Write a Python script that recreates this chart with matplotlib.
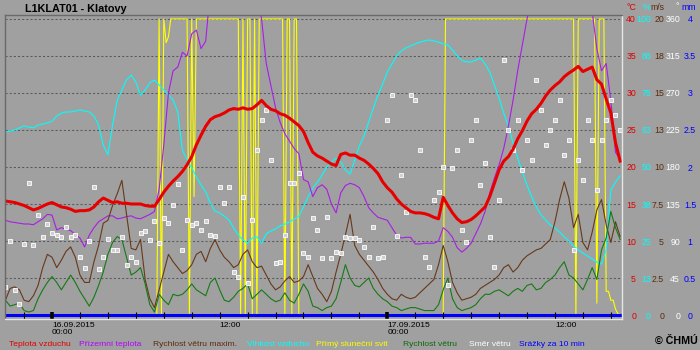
import numpy as np
import pandas as pd
import matplotlib
matplotlib.use("Agg")
import matplotlib.pyplot as plt

plt.rcParams['font.family'] = ['Liberation Sans', 'DejaVu Sans']

# ---------------------------------------------------------------- data
times = pd.date_range("2015-09-15 20:40", "2015-09-17 16:40", freq="20min")
sun_times = pd.date_range("2015-09-15 20:40", "2015-09-17 16:40", freq="10min")

temperature = [
    15.4, 15.3, 15.2, 15.0, 14.8, 14.5, 14.2, 14.4, 14.7, 15.0,
    15.2, 14.9, 14.6, 14.5, 14.3, 14.0, 14.1, 14.1, 14.2, 14.6,
    15.3, 15.8, 15.5, 15.2, 15.3, 15.1, 15.1, 15.0, 15.0, 15.0,
    14.8, 14.7, 14.7, 15.6, 16.6, 17.4, 18.1, 18.7, 19.4, 20.3,
    21.4, 23.0, 24.3, 25.5, 26.4, 26.8, 27.0, 27.3, 27.7, 27.9,
    27.8, 28.0, 27.8, 27.9, 28.4, 29.0, 28.3, 27.8, 27.6, 27.2,
    27.0, 26.6, 26.1, 25.6, 24.8, 23.3, 22.0, 21.5, 21.2, 20.8,
    20.4, 20.2, 21.7, 21.9, 21.6, 21.6, 21.2, 20.9, 20.4, 19.8,
    19.1, 18.0, 17.2, 16.6, 15.7, 15.0, 14.5, 14.0, 13.8, 13.8,
    13.7, 13.5, 13.2, 13.0, 15.9, 14.8, 13.8, 13.0, 12.5, 12.6,
    12.9, 13.4, 14.0, 14.6, 16.0, 17.8, 19.6, 20.8, 21.4, 22.4,
    23.8, 24.9, 26.2, 27.2, 27.8, 28.6, 29.6, 30.4, 31.0, 31.5,
    32.2, 32.7, 33.1, 33.6, 32.9, 33.2, 33.5, 31.8, 31.2, 29.2,
    27.3, 23.3, 20.8]

ground_temp = [
    12.8, 12.6, 12.5, 12.4, 12.3, 12.3, 12.2, 12.6, 13.0, 13.6,
    13.5, 11.5, 11.8, 11.6, 11.4, 10.9, 10.4, 9.2, 10.8, 11.8,
    12.6, 13.0, 13.4, 13.4, 13.0, 13.1, 13.3, 13.4, 13.1, 13.0,
    13.3, 13.6, 14.0, 17.0, 23.0, 30.0, 33.0, 33.5, 35.5, 35.0,
    38.0, 38.5, 36.0, 37.0, 44.0, 46.0, 47.0, 48.0, 48.5, 49.0,
    49.0, 48.5, 47.0, 45.5, 43.0, 40.0, 34.0, 31.0, 28.0, 26.0,
    24.5, 23.5, 22.5, 21.8, 18.3, 18.0, 16.0, 17.2, 17.6, 17.0,
    15.0, 13.8, 16.5, 17.5, 17.8, 17.6, 17.2, 16.0, 14.5, 13.8,
    13.2, 13.0, 12.8, 11.8, 10.8, 10.4, 10.5, 10.5, 9.6, 9.6,
    9.7, 9.7, 9.7, 10.0, 11.8, 11.3, 10.5, 9.1, 8.5, 9.0,
    9.7, 11.0, 12.3, 14.0, 16.5, 18.5, 20.3, 22.5, 25.5, 29.0,
    33.0, 36.5, 40.0, 43.0, 45.0, 47.0, 48.0, 49.0, 49.5, 50.0,
    50.0, 49.5, 48.5, 47.5, 46.0, 44.0, 41.0, 36.0, 33.0, 34.0,
    29.0, 22.0, 21.0]

humidity = [
    61.8, 62.2, 62.5, 63.2, 63.9, 63.5, 63.2, 64.2, 64.5, 64.9,
    65.5, 67.2, 68.2, 68.6, 68.6, 68.9, 69.3, 68.9, 68.6, 67.2,
    64.2, 57.4, 54.1, 64.2, 72.6, 76.0, 79.4, 81.1, 78.7, 74.3,
    76.0, 78.4, 79.4, 77.7, 76.0, 74.3, 72.6, 68.6, 55.7, 52.4,
    49.7, 46.6, 43.9, 41.6, 37.8, 35.1, 34.5, 33.4, 32.1, 29.4,
    27.0, 25.3, 24.3, 26.0, 26.4, 24.3, 27.4, 28.4, 29.1, 30.1,
    30.7, 31.4, 32.4, 33.4, 36.5, 39.9, 42.9, 44.9, 47.3, 50.0,
    51.7, 53.0, 51.7, 49.0, 47.6, 52.4, 57.1, 60.5, 65.2, 69.9,
    74.3, 78.0, 82.1, 84.8, 87.5, 89.2, 90.2, 90.9, 91.6, 92.2,
    92.6, 92.9, 92.6, 92.2, 91.6, 91.2, 89.5, 87.5, 86.1, 85.5,
    85.5, 86.1, 86.8, 84.8, 82.1, 77.7, 73.3, 68.2, 63.9, 58.1,
    53.0, 48.3, 43.9, 39.9, 36.5, 33.8, 32.1, 30.4, 29.4, 28.0,
    26.4, 25.0, 23.3, 22.0, 20.9, 19.9, 18.9, 17.9, 17.2, 22.0,
    42.2, 44.9, 47.0]

wind_gust = [
    1.0, 1.8, 1.9, 1.7, 1.0, 0.9, 1.3, 2.0, 3.2, 4.1,
    3.9, 3.2, 3.7, 4.3, 4.6, 3.9, 2.7, 2.2, 2.2, 3.6,
    4.7, 6.2, 6.4, 7.4, 8.2, 9.1, 6.8, 4.5, 4.4, 5.1,
    2.4, 1.1, 0.5, 1.7, 2.9, 4.1, 3.6, 3.2, 2.8, 3.0,
    3.4, 4.1, 4.3, 3.6, 4.5, 5.1, 4.4, 3.9, 3.6, 3.2,
    3.4, 4.1, 4.4, 3.6, 3.2, 3.3, 2.7, 2.1, 1.7, 1.9,
    2.3, 2.6, 2.2, 2.3, 2.6, 3.4, 2.6, 1.8, 1.4, 0.9,
    1.6, 2.9, 4.1, 5.4, 6.8, 4.7, 4.1, 3.7, 3.3, 2.9,
    2.4, 1.8, 1.4, 1.1, 1.0, 1.4, 1.2, 1.1, 1.2, 1.5,
    1.8, 2.1, 2.4, 3.4, 4.7, 3.6, 2.2, 1.5, 1.0, 1.1,
    1.2, 1.4, 1.8, 2.0, 2.2, 2.4, 2.7, 3.2, 3.4, 2.9,
    3.2, 3.7, 4.0, 4.2, 4.4, 4.5, 4.8, 5.1, 6.3, 7.8,
    9.0, 7.9, 5.9, 6.8, 4.9, 4.4, 5.6, 7.1, 7.8, 6.1,
    4.9, 6.3, 5.3]

wind_speed = [
    1.0, 0.6, 0.7, 0.8, 0.3, 0.2, 0.3, 1.1, 1.7, 2.2,
    2.6, 2.2, 1.7, 2.2, 2.7, 2.2, 1.6, 1.1, 0.6, 1.2,
    2.0, 2.9, 4.1, 4.9, 5.3, 5.1, 3.9, 2.7, 2.9, 3.2,
    2.1, 0.7, 0.2, 1.4, 1.0, 0.7, 1.4, 1.3, 1.4, 1.7,
    2.1, 1.7, 1.5, 1.3, 2.2, 2.5, 1.7, 1.0, 0.9, 1.2,
    1.6, 1.8, 2.1, 1.1, 1.4, 1.7, 1.4, 1.1, 0.9, 1.0,
    1.5, 1.0, 0.8, 1.4, 2.1, 1.6, 0.6, 0.5, 0.3, 0.5,
    0.6, 1.1, 2.2, 3.4, 2.5, 2.0, 1.9, 2.2, 2.5, 1.8,
    1.4, 1.1, 0.9, 0.6, 0.5, 0.3, 0.4, 0.5, 0.5, 0.4,
    0.3, 0.3, 0.3, 0.7, 1.7, 2.5, 1.1, 0.5, 0.3, 0.4,
    0.5, 0.7, 1.1, 1.4, 1.4, 1.6, 1.7, 1.5, 1.3, 1.6,
    1.8, 1.6, 2.0, 2.1, 1.7, 1.8, 2.2, 2.4, 2.7, 3.2,
    3.6, 2.7, 2.5, 2.1, 1.7, 2.4, 3.2, 2.4, 4.4, 5.2,
    7.0, 5.9, 5.1]

wind_dir = [
    34, 90, 30, 13, 86, 161, 85, 122, 95, 111,
    100, 97, 95, 107, 95, 97, 71, 57, 90, 156,
    56, 71, 92, 79, 79, 95, 61, 71, 64, 100,
    102, 91, 114, 88, 118, 112, 134, 159, 79, 116,
    109, 112, 103, 114, 97, 96, 156, 136, 156, 52,
    46, 144, 39, 116, 201, 237, 249, 189, 63, 64,
    97, 161, 161, 173, 75, 71, 118, 103, 69, 119,
    69, 77, 75, 95, 94, 94, 91, 83, 71, 107,
    69, 71, 237, 268, 96, 170, 125, 268, 261, 201,
    71, 58, 140, 150, 180, 36, 179, 201, 103, 89,
    213, 237, 158, 185, 95, 58, 140, 310, 225, 201,
    237, 176, 213, 189, 286, 249, 207, 225, 237, 261,
    195, 213, 79, 189, 164, 237, 213, 152, 213, 237,
    261, 243, 225]

precipitation = [
    0, 0, 0, 0, 0, 0, 0, 0, 0, 0, 0, 0, 0, 0, 0, 0, 0, 0, 0, 0,
    0, 0, 0, 0, 0, 0, 0, 0, 0, 0, 0, 0, 0, 0, 0, 0, 0, 0, 0, 0,
    0, 0, 0, 0, 0, 0, 0, 0, 0, 0, 0, 0, 0, 0, 0, 0, 0, 0, 0, 0,
    0, 0, 0, 0, 0, 0, 0, 0, 0, 0, 0, 0, 0, 0, 0, 0, 0, 0, 0, 0,
    0, 0, 0, 0, 0, 0, 0, 0, 0, 0, 0, 0, 0, 0, 0, 0, 0, 0, 0, 0,
    0, 0, 0, 0, 0, 0, 0, 0, 0, 0, 0, 0, 0, 0, 0, 0, 0, 0, 0, 0,
    0, 0, 0, 0, 0, 0, 0, 0, 0, 0, 0, 0, 0]

# minutes of direct sunshine per 10 minutes
sunshine = [
    0, 0, 0, 0, 0, 0, 0, 0, 0, 0, 0, 0, 0, 0, 0, 0, 0, 0, 0, 0, 0, 0,
    0, 0, 0, 0, 0, 0, 0, 0, 0, 0, 0, 0, 0, 0, 0, 0, 0, 0, 0, 0, 0, 0,
    0, 0, 0, 0, 0, 0, 0, 0, 0, 0, 0, 0, 0, 0, 0, 0, 0, 0, 0, 0, 0, 0,
    10, 0, 10, 9.2, 9.4, 10, 10, 10, 10, 10, 10, 10, 10, 0, 10, 4,
    10, 10, 10, 10, 10, 10, 10, 10, 10, 10, 10, 10, 10, 10, 10, 10, 10, 10, 10,
    0, 10, 0, 10, 10, 0, 10, 0,
    10, 10, 10, 10, 10, 10, 10, 10, 10, 10, 10,
    0, 10, 10, 0, 10, 10,
    0, 0, 0, 0, 0, 0, 0, 0, 0, 0, 0, 0, 0, 0, 0, 0, 0, 0, 0, 0, 0,
    0, 0, 0, 0, 0, 0, 0, 0, 0, 0, 0, 0, 0, 0, 0, 0, 0, 0, 0, 0, 0,
    0, 0, 0, 0, 0, 0, 0, 0, 0, 0, 0, 0, 0, 0, 0, 0, 0, 0, 0, 0, 0,
    10, 10, 10, 10, 10, 10, 10, 10, 10, 10, 10, 10, 10, 10,
    10, 10, 10, 10, 10, 10, 10, 10, 10, 10, 10, 10, 10, 10,
    10, 10, 10, 10, 10, 10, 10, 10, 10, 10, 10, 10, 10, 10,
    10, 10, 10, 10, 10, 10, 10, 10, 10, 10, 10, 10, 10, 10,
    0, 10, 10, 10, 10, 10, 10, 10, 10, 0.4, 10, 10, 10,
    0.8, 0.8, 0.5, 0.5, 0.2, 0.05, 0]

station = "L1KLAT01 - Klatovy"
legend_labels = ["Teplota vzduchu", "Přízemní teplota", "Rychlost větru maxim.",
                 "Vlhkost vzduchu", "Přímý sluneční svit", "Rychlost větru",
                 "Směr větru", "Srážky za 10 min"]
unit_labels = ["°C", "%", "m/s", "°", "mm"]
temp_ticks = [0, 5, 10, 15, 20, 25, 30, 35, 40]
temp_ticklabels = ["0", "5", "10", "15", "20", "25", "30", "35", "40"]
hum_ticks = [0, 12.5, 25, 37.5, 50, 62.5, 75, 87.5, 100]
hum_ticklabels = ["0", "13", "25", "38", "50", "63", "75", "88", "100"]
wind_ticks = [0, 2.5, 5, 7.5, 10, 12.5, 15, 17.5, 20]
wind_ticklabels = ["0", "2.5", "5", "7.5", "10", "13", "15", "18", "20"]
dir_ticks = [0, 45, 90, 135, 180, 225, 270, 315, 360]
dir_ticklabels = ["0", "45", "90", "135", "180", "225", "270", "315", "360"]
rain_ticks = [0, 0.5, 1, 1.5, 2, 2.5, 3, 3.5, 4]
rain_ticklabels = ["0", "0.5", "1", "1.5", "2", "2.5", "3", "3.5", "4"]

# ---------------------------------------------------------------- style
BG = "#a0a0a0"
C_T = "#e80000"
C_G = "#a81ee6"
C_WG = "#66391a"
C_H = "#00ffff"
C_S = "#ffff00"
C_W = "#157a15"
C_D = "#ffffff"
C_R = "#0000ff"
THIN = 0.8

W, H = 700, 350
fig = plt.figure(figsize=(W / 100, H / 100), dpi=100, facecolor=BG)
rect = [5 / W, 31 / H, 617 / W, 304 / H]

t_lim = (-0.54, 40.54)
x_lim = (pd.Timestamp("2015-09-15 20:38"), pd.Timestamp("2015-09-17 16:48"))

ax_bg = fig.add_axes(rect, zorder=0)
ax_bg.set_facecolor(BG)
ax_bg.set_xlim(*x_lim)
ax_bg.set_ylim(*t_lim)
ax_bg.set_yticks(temp_ticks[1:])
ax_bg.yaxis.grid(True, linestyle=(0, (2, 2)), color="#595959", linewidth=0.75)
ax_bg.tick_params(which="both", left=False, labelleft=False, bottom=False,
                  labelbottom=False)
for s in ax_bg.spines.values():
    s.set_visible(False)


def overlay(scale, z):
    a = fig.add_axes(rect, sharex=ax_bg, zorder=z)
    a.patch.set_visible(False)
    a.set_ylim(t_lim[0] * scale, t_lim[1] * scale)
    for s in a.spines.values():
        s.set_visible(False)
    a.tick_params(which="both", bottom=False, labelbottom=False, left=False,
                  labelleft=False, right=False, labelright=False)
    return a


def right_labels(a, ticks, labels, color, pad_px, ha="right"):
    a.set_yticks(ticks, labels=labels)
    a.yaxis.tick_right()
    a.tick_params(axis="y", right=False, labelright=True, length=0,
                  pad=pad_px * 0.72, labelsize=6.3, labelcolor=color)
    for lb in a.get_yticklabels():
        lb.set_ha(ha)


ax_sun = overlay(0.25, 1)
ax_sun.plot(sun_times, sunshine, color=C_S, lw=THIN)

ax_hum = overlay(2.5, 2)
ax_hum.plot(times, humidity, color=C_H, lw=THIN)
right_labels(ax_hum, hum_ticks, hum_ticklabels, C_H, 29)

ax_gt = overlay(1.0, 3)
ax_gt.plot(times, ground_temp, color=C_G, lw=THIN)

ax_wind = overlay(0.5, 4)
ax_wind.plot(times, wind_gust, color=C_WG, lw=THIN)
ax_wind.plot(times, wind_speed, color=C_W, lw=THIN)
right_labels(ax_wind, wind_ticks, wind_ticklabels, "#5a2c0c", 42)

ax_dir = overlay(9.0, 5)
ax_dir.plot(times, wind_dir, linestyle="none", marker="s", markersize=2.5,
            markerfacecolor="#d0d0d0", markeredgecolor="white", markeredgewidth=0.6)
right_labels(ax_dir, dir_ticks, dir_ticklabels, C_D, 58)

ax_rain = overlay(0.1, 6)
ax_rain.plot(times, precipitation, color=C_R, lw=2.2)
right_labels(ax_rain, rain_ticks, rain_ticklabels, C_R, 68, ha="center")

ax_t = overlay(1.0, 7)
ax_t.plot(times, temperature, color=C_T, lw=2.2, solid_joinstyle="round")
right_labels(ax_t, temp_ticks, temp_ticklabels, "#dd0000", 14)

# sunken frame
for side in ("top", "left"):
    ax_t.spines[side].set_visible(True)
    ax_t.spines[side].set_color("#6a6a6a")
    ax_t.spines[side].set_linewidth(1.0)
for side in ("right", "bottom"):
    ax_t.spines[side].set_visible(True)
    ax_t.spines[side].set_color("#e6e6e6")
    ax_t.spines[side].set_linewidth(1.0)

# time axis
midnights = [pd.Timestamp("2015-09-16 00:00"), pd.Timestamp("2015-09-17 00:00")]
minor = [t for t in pd.date_range("2015-09-15 22:00", "2015-09-17 16:00", freq="2h")
         if t.hour != 0]
ax_t.set_xticks(midnights, labels=[t.strftime("%d.%m.%Y") + "\n00:00" for t in midnights])
ax_t.set_xticks(minor, minor=True,
                labels=["12:00" if t.hour == 12 else "" for t in minor])
ax_t.tick_params(axis="x", which="both", bottom=True, labelbottom=True,
                 direction="in", color="black", labelsize=6.1, pad=2.0)
ax_t.tick_params(axis="x", which="major", length=5, width=2.6)
ax_t.tick_params(axis="x", which="minor", length=5, width=0.8)
for lb in ax_t.get_xticklabels(which="both"):
    lb.set_ha("left")
    lb.set_linespacing(1.0)

# headings
fig.text(25 / W, 1 - 9 / H, station, fontsize=7.8, fontweight="bold",
         color="black", va="center", ha="left")
unit_x = [636, 650, 664, 679, 689]
unit_ha = ["right", "right", "right", "right", "center"]
unit_c = ["#dd0000", C_H, "#5a2c0c", C_D, C_R]
for lab, ux, uh, uc in zip(unit_labels, unit_x, unit_ha, unit_c):
    fig.text(ux / W, 1 - 7 / H, lab, fontsize=6.3, color=uc, ha=uh, va="center")

# legend
leg_x = [9, 79, 153, 247, 316, 403, 469, 519]
leg_c = ["#e00000", "#b400ff", "#5a2c0c", C_H, C_S, "#0a6a0a", C_D, C_R]
for lab, lx, lc in zip(legend_labels, leg_x, leg_c):
    fig.text(lx / W, 1 - 344 / H, lab, fontsize=6.1, color=lc, ha="left", va="center")
fig.text(698 / W, 1 - 341 / H, "© ČHMÚ", fontsize=7.7, fontweight="bold",
         color="black", ha="right", va="center")

fig.savefig("out.png", dpi=100, facecolor=BG)
